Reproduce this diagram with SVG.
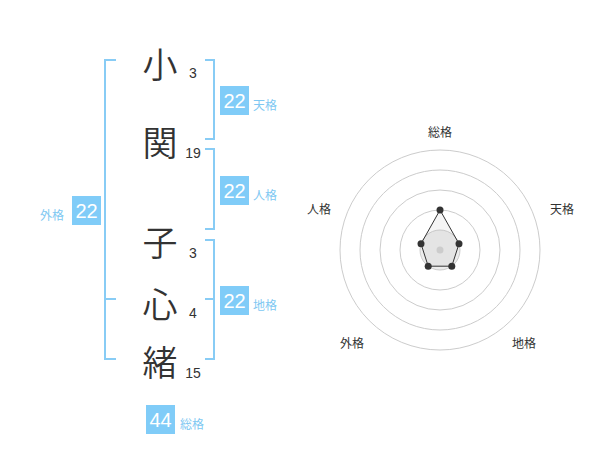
<svg xmlns="http://www.w3.org/2000/svg" width="600" height="470" viewBox="0 0 600 470">
<style>
.ch{font-family:"Noto Sans CJK JP","Noto Sans CJK SC",sans-serif;font-size:35px;font-weight:350;fill:#333;text-anchor:middle;dominant-baseline:central}
.num{font-family:"Liberation Sans",Arial,sans-serif;font-size:14px;fill:#333;text-anchor:middle;dominant-baseline:central}
.br{fill:none;stroke:#88ccf5;stroke-width:2}
.box{fill:#80ccf8}
.bv{font-family:"Liberation Sans",Arial,sans-serif;font-size:20px;fill:#fff;text-anchor:middle;dominant-baseline:central}
.bl{font-family:"Noto Sans CJK JP",sans-serif;font-size:12px;fill:#80c8f2;dominant-baseline:central}
.ax{font-family:"Noto Sans CJK JP",sans-serif;font-size:12px;fill:#333;text-anchor:middle;dominant-baseline:central}
.ring{fill:none;stroke:#ccc;stroke-width:1}
.pt{fill:#333}
</style>
<rect width="600" height="470" fill="#fff"/>
<g id="name">
<text class="ch" x="160" y="62">小</text>
<text class="ch" x="160" y="140">関</text>
<text class="ch" x="160" y="240">子</text>
<text class="ch" x="160" y="302">心</text>
<text class="ch" x="160" y="360">緒</text>
<text class="num" x="193" y="73">3</text>
<text class="num" x="193" y="153">19</text>
<text class="num" x="193" y="253">3</text>
<text class="num" x="193" y="313">4</text>
<text class="num" x="193" y="373">15</text>
</g>
<g id="connectors">
<path class="br" d="M116,60 H105 V359 H116 M105,299 H116"/>
<path class="br" d="M205,60 H214 V139 H205"/>
<path class="br" d="M205,149 H214 V229 H205"/>
<path class="br" d="M205,240 H214 V359 H205 M205,299 H214"/>
</g>
<g id="tenkaku">
<rect class="box" x="220" y="86" width="29" height="29"/>
<text class="bv" x="234.5" y="101">22</text>
<text class="bl" x="253" y="104">天格</text>
</g>
<g id="jinkaku">
<rect class="box" x="220" y="176" width="29" height="29"/>
<text class="bv" x="234.5" y="191">22</text>
<text class="bl" x="253" y="194">人格</text>
</g>
<g id="chikaku">
<rect class="box" x="220" y="286" width="29" height="29"/>
<text class="bv" x="234.5" y="301">22</text>
<text class="bl" x="253" y="304">地格</text>
</g>
<g id="gaikaku">
<rect class="box" x="72" y="196" width="29" height="29"/>
<text class="bv" x="86.5" y="211">22</text>
<text class="bl" x="40" y="214">外格</text>
</g>
<g id="soukaku">
<rect class="box" x="146" y="405" width="29" height="29"/>
<text class="bv" x="160.5" y="420">44</text>
<text class="bl" x="180" y="423">総格</text>
</g>
<g id="radar">
<circle class="ring" cx="440" cy="250" r="100"/>
<circle class="ring" cx="440" cy="250" r="80"/>
<circle class="ring" cx="440" cy="250" r="60"/>
<circle class="ring" cx="440" cy="250" r="40"/>
<circle cx="440" cy="250" r="20" fill="#ececec" stroke="#ccc"/>
<polygon points="440,210 459,243.8 451.8,266.2 428.2,266.2 421,243.8" fill="#aaa" fill-opacity="0.12" stroke="#333" stroke-width="1"/>
<circle cx="440" cy="250" r="3.5" fill="#ccc"/>
<circle class="pt" cx="440" cy="210" r="3.5"/>
<circle class="pt" cx="459" cy="243.8" r="3.5"/>
<circle class="pt" cx="451.8" cy="266.2" r="3.5"/>
<circle class="pt" cx="428.2" cy="266.2" r="3.5"/>
<circle class="pt" cx="421" cy="243.8" r="3.5"/>
<text class="ax" x="440" y="131">総格</text>
<text class="ax" x="562" y="208">天格</text>
<text class="ax" x="524" y="342">地格</text>
<text class="ax" x="352" y="342">外格</text>
<text class="ax" x="319" y="208">人格</text>
</g>
</svg>
